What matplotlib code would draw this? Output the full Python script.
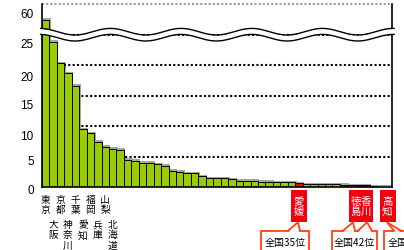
import numpy as np
import matplotlib
matplotlib.use('Agg')
import matplotlib.pyplot as plt
from matplotlib import transforms, patheffects
from matplotlib.patches import Polygon, Rectangle
from matplotlib.lines import Line2D

# ---------------- data ----------------
values = [42.0, 23.8, 20.3, 18.7, 16.6, 9.5, 8.8, 7.4, 6.6, 6.3,
          6.1, 4.5, 4.3, 4.0, 4.0, 3.7, 3.5, 2.7, 2.5, 2.3,
          2.3, 1.75, 1.4, 1.4, 1.4, 1.25, 1.05, 1.05, 1.05, 0.85,
          0.85, 0.8, 0.75, 0.75, 0.6, 0.5, 0.5, 0.5, 0.5, 0.45,
          0.35, 0.3, 0.3, 0.3, 0.1, 0.05, 0.05]
top_names = ['東京', '大阪', '京都', '神奈川', '千葉', '愛知', '福岡', '兵庫', '山梨', '北海道']
highlight_idx = [34, 42, 43, 46]
highlight_names = ['愛媛', '徳島', '香川', '高知']
callout_texts = ['全国35位', '全国42位', '全国47位']
yticks = [0, 5, 10, 15, 20, 25, 60]
ytick_labels = ['0', '5', '10', '15', '20', '25', '60']

# ---------------- style ----------------
plt.rcParams['font.family'] = ['Liberation Sans', 'Noto Sans CJK JP', 'DejaVu Sans']
CJK = ['Noto Sans CJK JP', 'DejaVu Sans']
GREEN = '#99CC00'
RED = '#F20010'
ORANGE = '#FF4010'
W, H = 404, 251

fig = plt.figure(figsize=(W / 100, H / 100), dpi=100)
ax = fig.add_axes([42 / W, (H - 188) / H, 350 / W, 183 / H])
pix = transforms.Affine2D().scale(1, -1).translate(0, H)  # image pixel coords (top-left origin)


def fwd(y):
    y = np.asarray(y, float)
    return np.where(y <= 25, y, 25 + (y - 25) / 7.0)


def inv(t):
    t = np.asarray(t, float)
    return np.where(t <= 25, t, 25 + (t - 25) * 7.0)


ax.set_yscale('function', functions=(fwd, inv))

x = np.arange(len(values))
colors = [RED if i in highlight_idx else GREEN for i in x]
bars = ax.bar(x, values, width=1.0, color=colors, edgecolor='black', linewidth=0.7, zorder=2)
for b in bars:
    b.set_path_effects([patheffects.SimplePatchShadow(offset=(1.0, 1.0), shadow_rgbFace='black', alpha=0.35),
                        patheffects.Normal()])

for g in [5, 10, 15, 20, 25]:
    ax.axhline(g, color='black', lw=1.5, ls=(0, (1, 1.1)), zorder=1)
ax.axhline(60, color='#9a9a9a', lw=1.5, ls=(0, (1, 1)), zorder=1, clip_on=False)

ax.set_xlim(-0.5, len(values) - 0.5)
ax.set_ylim(0, 60)
ax.set_xticks([])
ax.set_yticks(yticks)
ax.set_yticklabels(ytick_labels)
ax.tick_params(axis='y', length=0, pad=6, labelsize=8.5)
ax.spines['top'].set_visible(False)
for s in ['left', 'right', 'bottom']:
    ax.spines[s].set_linewidth(1.2)
    ax.spines[s].set_color('black')

drop_px = [1.7, 3.3, 8, 8.2, 10.8, 8.3, 8.3]
for lab, d in zip(ax.get_yticklabels(), drop_px):
    lab.set_transform(lab.get_transform() + transforms.ScaledTranslation(0, -d / 100, fig.dpi_scale_trans))

# ---------------- axis break (wave) ----------------
xs = np.linspace(-0.004, 1.006, 500)
px = 42 + xs * 350
up_px = 32.7 + 3.3 * np.cos(2 * np.pi * (px - 75) / 70.7)
lo_px = up_px + 6.0
up = (188 - up_px) / 183
lo = (188 - lo_px) / 183
ax.fill_between(xs, lo, up, transform=ax.transAxes, color='white', zorder=5, clip_on=False, lw=0)
ax.plot(xs, up, transform=ax.transAxes, color='black', lw=1.0, zorder=6, clip_on=False)
ax.plot(xs, lo, transform=ax.transAxes, color='black', lw=1.0, zorder=6, clip_on=False)

# ---------------- category labels ----------------
xd_ypix = transforms.blended_transform_factory(ax.transData, pix)
row_top = [195, 220]
for i, name in enumerate(top_names):
    ax.text(i, row_top[i % 2], '\n'.join(name), transform=xd_ypix, ha='center', va='top',
            fontsize=7, family=CJK, linespacing=1.05, clip_on=False)

# red highlight boxes
for (x0, x1) in [(290.7, 306.7), (349, 373), (380, 396)]:
    fig.add_artist(Rectangle((x0, 190.7), x1 - x0, 223.3 - 190.7, transform=pix,
                             fc=RED, ec='none', zorder=8))
name_x = [34, 41.65, 42.95, 45.85]
for nx, name in zip(name_x, highlight_names):
    fig.text(nx, 207, '\n'.join(name), transform=xd_ypix, ha='center', va='center',
             fontsize=7.5, family=CJK, color='white', linespacing=1.05, zorder=9)

# callouts
callouts = [
    dict(x0=260.7, x1=309, notches=[(288, 298, 300)], tx=285, ha='center'),
    dict(x0=331.7, x1=376.7, notches=[(343, 353, 355), (358, 367, 372)], tx=354, ha='center'),
    dict(x0=384, x1=440, notches=[(394, 387, 401)], tx=388, ha='left'),
]
cy0, tipy = 231.7, 223.3
for c, txt in zip(callouts, callout_texts):
    fig.add_artist(Rectangle((c['x0'], cy0), c['x1'] - c['x0'], 40, transform=pix,
                             fc='white', ec=ORANGE, lw=1.3, zorder=10))
    for (b0, t, b1) in c['notches']:
        fig.add_artist(Polygon([(b0 + 0.6, cy0 + 1.2), (t, tipy), (b1 - 0.6, cy0 + 1.2)], closed=True,
                               transform=pix, fc='white', ec='none', zorder=11))
        fig.add_artist(Line2D([b0, t, b1], [cy0, tipy, cy0], transform=pix, color=ORANGE,
                              lw=1.3, zorder=12))
    fig.text(c['tx'], 243, txt, transform=pix, ha=c['ha'], va='center', fontsize=7.2,
             family=CJK, color='black', zorder=13)

fig.savefig('out.png', dpi=100)
